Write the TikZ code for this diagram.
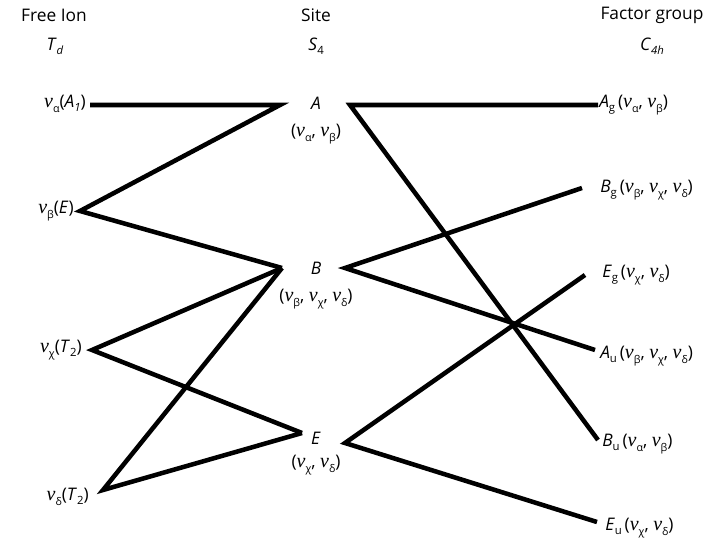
\documentclass[tikz,border=0pt]{standalone}
\usepackage{fontspec}
\setmainfont{Open Sans}
\newfontfamily\nufont{Liberation Serif}
\newcommand\Nu[1]{{\nufont\itshape\fontsize{15}{16}\selectfont ν}\raisebox{-0.55ex}{\fontsize{8}{9}\selectfont #1}}
\newcommand\Sy[2]{\textit{#1}\raisebox{-0.45ex}{\fontsize{8.5}{9}\selectfont #2}}
\begin{document}
\begin{tikzpicture}[x=0.75pt,y=-0.75pt,
  lbl/.style={inner sep=0pt,font=\fontsize{13}{15}\selectfont},
  link/.style={line width=3.4pt,line cap=butt,line join=miter}]
\useasboundingbox (0,0) rectangle (711,546);
% headers
\node[lbl] (h1) at (54,15) {Free Ion};
\node[lbl] (h1s) at (55,46) {\Sy{T}{\textit{d}}};
\node[lbl] (h2) at (316,15) {Site};
\node[lbl] (h2s) at (316,46) {\Sy{S}{4}};
\node[lbl] (h3) at (652,15) {Factor group};
\node[lbl] (h3s) at (652,46) {\Sy{C}{\textit{4h}}};
% free ion labels
\node[lbl,anchor=east] (fa) at (86,104) {\Nu{α}(\Sy{A}{\textit{1}})};
\node[lbl,anchor=east] (fb) at (74,211) {\Nu{β}(\textit{E})};
\node[lbl,anchor=east] (fc) at (82,350) {\Nu{χ}(\Sy{T}{2})};
\node[lbl,anchor=east] (fd) at (89,497) {\Nu{δ}(\Sy{T}{2})};
% site labels
\node[lbl] (sA) at (316,103) {\textit{A}};
\node[lbl] (sAv) at (316,134) {(\Nu{α}, \Nu{β})};
\node[lbl] (sB) at (316,268) {\textit{B}};
\node[lbl] (sBv) at (316,299) {(\Nu{β}, \Nu{χ}, \Nu{δ})};
\node[lbl] (sE) at (316,438) {\textit{E}};
\node[lbl] (sEv) at (316,465) {(\Nu{χ}, \Nu{δ})};
% factor group labels
\node[lbl,anchor=west] (gAg) at (599,105) {\Sy{A}{g}\,(\Nu{α}, \Nu{β})};
\node[lbl,anchor=west] (gBg) at (600,190) {\Sy{B}{g}\,(\Nu{β}, \Nu{χ}, \Nu{δ})};
\node[lbl,anchor=west] (gEg) at (602,275) {\Sy{E}{g}\,(\Nu{χ}, \Nu{δ})};
\node[lbl,anchor=west] (gAu) at (600,356) {\Sy{A}{u}\,(\Nu{β}, \Nu{χ}, \Nu{δ})};
\node[lbl,anchor=west] (gBu) at (602,444) {\Sy{B}{u}\,(\Nu{α}, \Nu{β})};
\node[lbl,anchor=west] (gEu) at (605,528) {\Sy{E}{u}\,(\Nu{χ}, \Nu{δ})};
% line end points
\coordinate (pa) at (90,105);
\coordinate (pb) at (80,211);
\coordinate (pc) at (92,350);
\coordinate (pd) at (103,490);
\coordinate (Al) at (280,105);
\coordinate (Bl) at (282,268);
\coordinate (El) at (302,433);
\coordinate (Ar) at (350,105);
\coordinate (Br) at (345,268);
\coordinate (Er) at (345,443);
\coordinate (qAg) at (598,105);
\coordinate (qBg) at (582,188);
\coordinate (qEg) at (585,275);
\coordinate (qAu) at (595,350);
\coordinate (qBu) at (598,440);
\coordinate (qEu) at (597,522);
% left connectors
\draw[link] (pa) -- (Al) -- (pb) -- (Bl);
\draw[link] (Bl) -- (pc) -- (El);
\draw[link] (Bl) -- (pd) -- (El);
% right connectors
\draw[link] (qAg) -- (Ar) -- (qBu);
\draw[link] (qBg) -- (Br) -- (qAu);
\draw[link] (qEg) -- (Er) -- (qEu);
\end{tikzpicture}
\end{document}
